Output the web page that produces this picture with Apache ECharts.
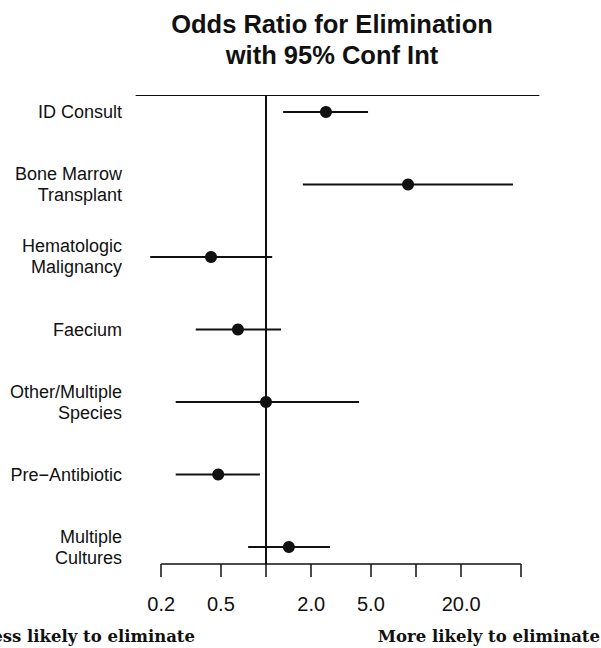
<!DOCTYPE html>
<html>
<head>
<meta charset="utf-8">
<script src="https://cdn.jsdelivr.net/npm/echarts@6/dist/echarts.min.js"></script>
<style>html,body{margin:0;padding:0;background:#fff;}#c{width:601px;height:648px;}</style>
</head>
<body>
<div id="c"></div>
<script>
const categories = ['ID Consult', 'Bone Marrow\nTransplant', 'Hematologic\nMalignancy', 'Faecium', 'Other/Multiple\nSpecies', 'Pre\u2212Antibiotic', 'Multiple\nCultures'];
const oddsRatio = [2.51, 8.85, 0.43, 0.65, 1.0, 0.48, 1.42];
const ciLow = [1.30, 1.76, 0.169, 0.34, 0.25, 0.25, 0.76];
const ciHigh = [4.79, 44.3, 1.10, 1.26, 4.17, 0.91, 2.67];
const tickValues = [0.2, 0.5, 1, 2, 5, 10, 20, 50];
const tickLabels = ['0.2', '0.5', '', '2.0', '5.0', '', '20.0', ''];
const labeledTicks = [0.2, 0.5, 2, 5, 20];

const xMin = 0.1359, xMax = 66.07;
const yMin = -0.234, yMax = 6.234;
const ink = '#111';

const chart = echarts.init(document.getElementById('c'), null, {renderer: 'svg'});
chart.setOption({
  animation: false,
  backgroundColor: '#fff',
  grid: {left: 136, right: 62, top: 95, bottom: 84, containLabel: false},
  xAxis: [{
    type: 'log', logBase: 10, min: xMin, max: xMax, position: 'bottom',
    axisLine: {show: false, onZero: false},
    splitLine: {show: false},
    axisTick: {show: true, customValues: tickValues, length: 13, lineStyle: {color: ink, width: 1.5}},
    axisLabel: {show: true, customValues: labeledTicks, margin: 30, fontSize: 20, color: ink,
      fontFamily: 'Liberation Sans, Arial, sans-serif',
      formatter: v => { const i = tickValues.findIndex(t => Math.abs(t - v) < 1e-9); return i >= 0 ? tickLabels[i] : ''; }}
  }, {
    type: 'log', logBase: 10, min: xMin, max: xMax, position: 'top',
    axisLine: {show: true, onZero: false, lineStyle: {color: ink, width: 1}},
    axisTick: {show: false}, axisLabel: {show: false}, splitLine: {show: false}
  }],
  yAxis: {
    type: 'value', inverse: true, min: yMin, max: yMax,
    axisLine: {show: false}, axisTick: {show: false}, splitLine: {show: false},
    axisLabel: {show: true, customValues: [0, 1, 2, 3, 4, 5, 6], margin: 14, fontSize: 18, lineHeight: 21,
      color: ink, align: 'right', fontFamily: 'Liberation Sans, Arial, sans-serif',
      formatter: v => categories[Math.round(v)]}
  },
  series: [{
    type: 'custom',
    xAxisIndex: 0,
    encode: {x: [0, 1], y: 2},
    data: categories.map((c, i) => [ciLow[i], ciHigh[i], i]),
    renderItem: (params, api) => {
      const p1 = api.coord([api.value(0), api.value(2)]);
      const p2 = api.coord([api.value(1), api.value(2)]);
      return {type: 'line', shape: {x1: p1[0], y1: p1[1], x2: p2[0], y2: p2[1]}, style: {stroke: ink, lineWidth: 2}};
    },
    clip: false, z: 2
  }, {
    type: 'line',
    xAxisIndex: 0,
    data: tickValues.map(v => [v, yMax]),
    symbol: 'none', lineStyle: {color: ink, width: 1.5}, clip: false, z: 3
  }, {
    type: 'scatter',
    xAxisIndex: 0,
    data: oddsRatio.map((v, i) => [v, i]),
    symbolSize: 12, itemStyle: {color: ink, opacity: 1}, z: 4,
    markLine: {silent: true, symbol: 'none', label: {show: false},
      lineStyle: {color: ink, width: 2, type: 'solid'}, data: [{xAxis: 1}]}
  }],
  graphic: [{
    type: 'text',
    style: {text: 'Odds Ratio for Elimination\nwith 95% Conf Int', x: 332, y: 39.5, align: 'center', verticalAlign: 'middle',
      font: 'bold 25.5px "Liberation Sans", Arial, sans-serif', lineHeight: 31, fill: ink}
  }, {
    type: 'text',
    style: {text: 'Less likely to eliminate', x: 195, y: 636, align: 'right', verticalAlign: 'middle',
      font: 'bold 16.5px "DejaVu Serif", serif', fill: ink}
  }, {
    type: 'text',
    style: {text: 'More likely to eliminate', x: 600, y: 636, align: 'right', verticalAlign: 'middle',
      font: 'bold 16.5px "DejaVu Serif", serif', fill: ink}
  }]
});
</script>
</body>
</html>
